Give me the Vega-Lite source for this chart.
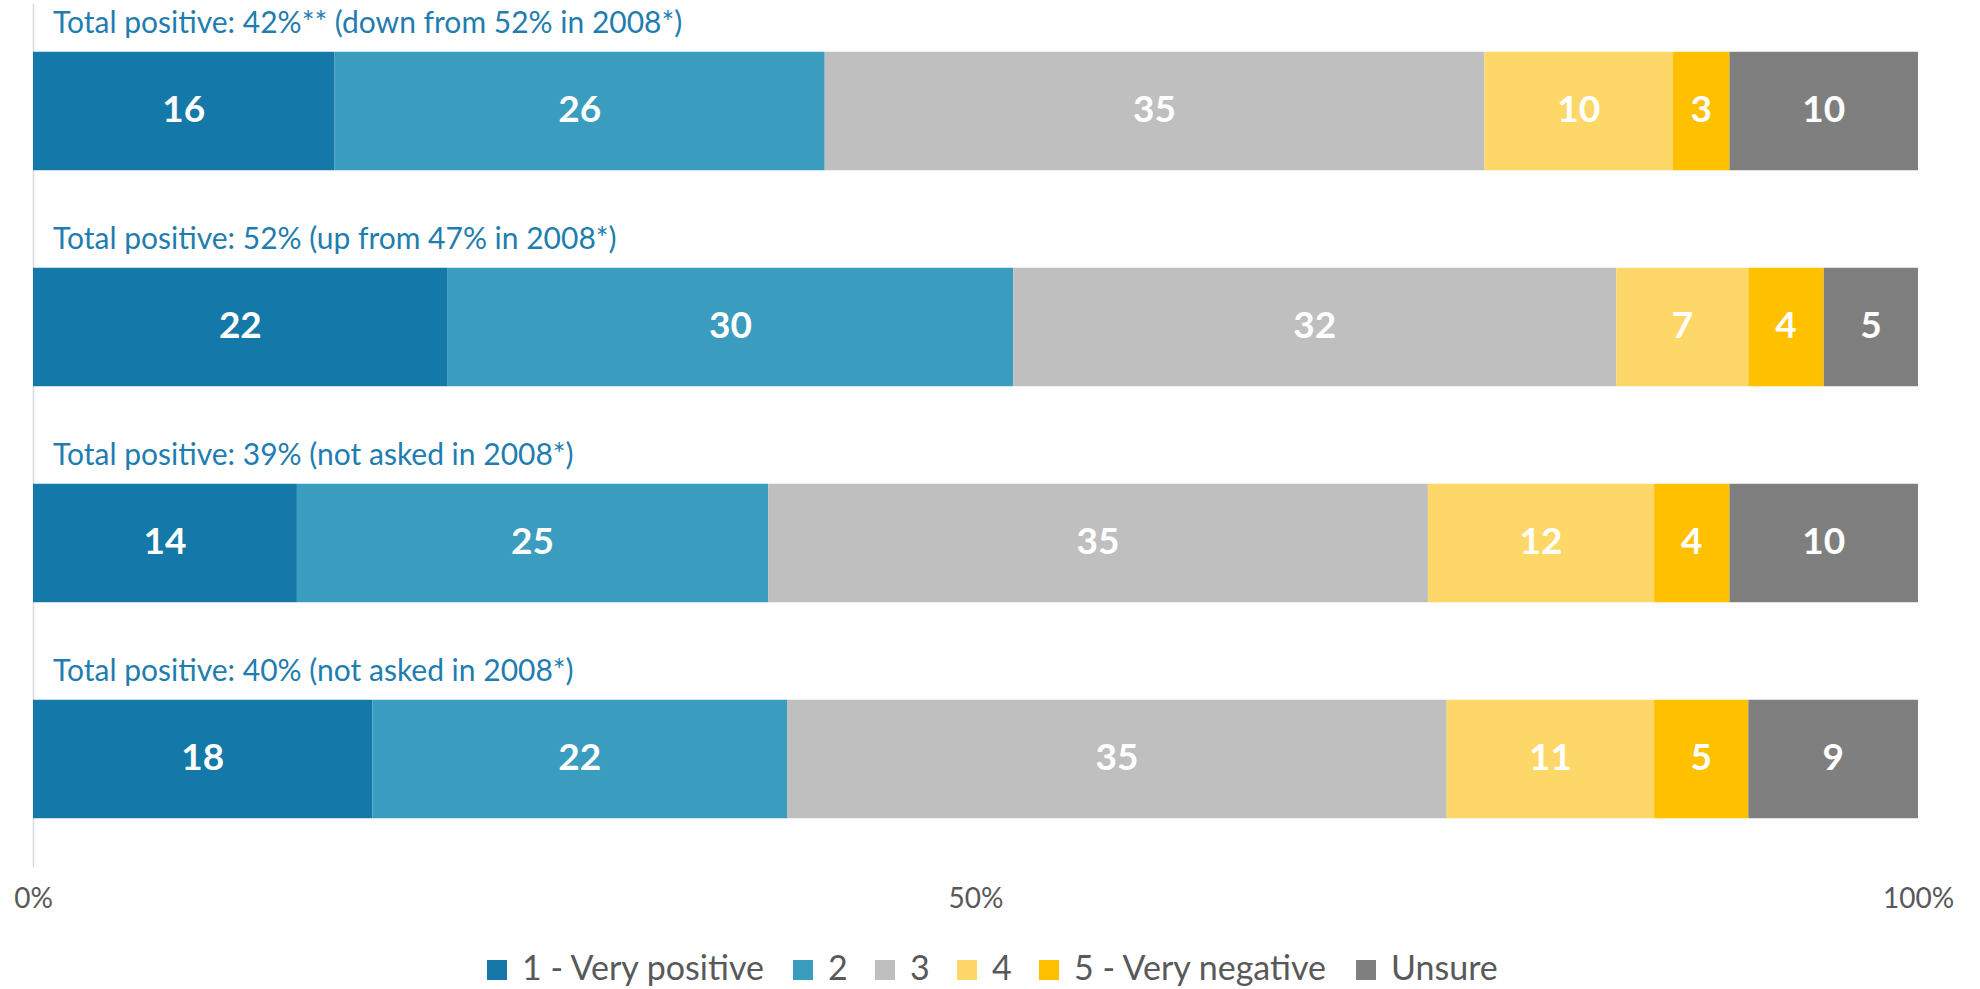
{
  "$schema": "https://vega.github.io/schema/vega-lite/v6.json",
  "width": 1885,
  "height": 864,
  "autosize": "none",
  "padding": {"left": 33, "top": 3, "right": 62, "bottom": 122},
  "background": "white",
  "config": {
    "view": {"stroke": null},
    "font": "Lato",
    "axisY": {"labels": false, "ticks": false, "title": null, "grid": false, "domainColor": "#d9d9d9", "domainWidth": 1.5},
    "axisX": {"domain": false, "ticks": false, "tickSize": 0, "grid": false, "title": null, "labelFontSize": 28, "labelColor": "#595959", "labelPadding": 32, "labelBaseline": "middle", "labelFlush": false}
  },
  "datasets": {
    "segs": [
      {"row": 1, "cat": "1 - Very positive", "order": 1, "value": 16},
      {"row": 1, "cat": "2", "order": 2, "value": 26},
      {"row": 1, "cat": "3", "order": 3, "value": 35},
      {"row": 1, "cat": "4", "order": 4, "value": 10},
      {"row": 1, "cat": "5 - Very negative", "order": 5, "value": 3},
      {"row": 1, "cat": "Unsure", "order": 6, "value": 10},
      {"row": 2, "cat": "1 - Very positive", "order": 1, "value": 22},
      {"row": 2, "cat": "2", "order": 2, "value": 30},
      {"row": 2, "cat": "3", "order": 3, "value": 32},
      {"row": 2, "cat": "4", "order": 4, "value": 7},
      {"row": 2, "cat": "5 - Very negative", "order": 5, "value": 4},
      {"row": 2, "cat": "Unsure", "order": 6, "value": 5},
      {"row": 3, "cat": "1 - Very positive", "order": 1, "value": 14},
      {"row": 3, "cat": "2", "order": 2, "value": 25},
      {"row": 3, "cat": "3", "order": 3, "value": 35},
      {"row": 3, "cat": "4", "order": 4, "value": 12},
      {"row": 3, "cat": "5 - Very negative", "order": 5, "value": 4},
      {"row": 3, "cat": "Unsure", "order": 6, "value": 10},
      {"row": 4, "cat": "1 - Very positive", "order": 1, "value": 18},
      {"row": 4, "cat": "2", "order": 2, "value": 22},
      {"row": 4, "cat": "3", "order": 3, "value": 35},
      {"row": 4, "cat": "4", "order": 4, "value": 11},
      {"row": 4, "cat": "5 - Very negative", "order": 5, "value": 5},
      {"row": 4, "cat": "Unsure", "order": 6, "value": 9}
    ],
    "titles": [
      {"row": 1, "text": "Total positive: 42%** (down from 52% in 2008*)"},
      {"row": 2, "text": "Total positive: 52% (up from 47% in 2008*)"},
      {"row": 3, "text": "Total positive: 39% (not asked in 2008*)"},
      {"row": 4, "text": "Total positive: 40% (not asked in 2008*)"}
    ]
  },
  "layer": [
    {
      "data": {"name": "segs"},
      "transform": [
        {"stack": "value", "groupby": ["row"], "sort": [{"field": "order", "order": "ascending"}], "as": ["v0", "v1"]},
        {"calculate": "(datum.v0 + datum.v1) / 2", "as": "mid"}
      ],
      "layer": [
        {
          "mark": {"type": "bar"},
          "encoding": {
            "y": {"field": "row", "type": "ordinal", "scale": {"paddingInner": 0.452, "paddingOuter": 0.226}},
            "x": {"field": "v0", "type": "quantitative", "scale": {"domain": [0, 100], "nice": false}, "axis": {"values": [0, 50, 100], "labelExpr": "datum.value + '%'"}},
            "x2": {"field": "v1"},
            "color": {
              "field": "cat", "type": "nominal",
              "scale": {
                "domain": ["1 - Very positive", "2", "3", "4", "5 - Very negative", "Unsure"],
                "range": ["#1479A8", "#3A9CBF", "#BFBFBF", "#FDD868", "#FFC000", "#7F7F7F"]
              },
              "legend": {
                "title": null, "orient": "none", "direction": "horizontal",
                "legendX": 447, "legendY": 950,
                "symbolType": "square", "symbolSize": 400, "symbolStrokeWidth": 0,
                "labelFontSize": 34, "labelColor": "#595959", "labelOffset": 8, "columnPadding": 20, "labelLimit": 0
              }
            }
          }
        },
        {
          "mark": {"type": "text", "color": "white", "fontWeight": "bold", "fontSize": 37, "baseline": "middle", "align": "center"},
          "encoding": {
            "y": {"field": "row", "type": "ordinal"},
            "x": {"field": "mid", "type": "quantitative"},
            "text": {"field": "value", "type": "quantitative"}
          }
        }
      ]
    },
    {
      "data": {"name": "titles"},
      "mark": {"type": "text", "color": "#1F7DB0", "fontSize": 30, "align": "left", "baseline": "alphabetic", "dx": 20, "dy": -78},
      "encoding": {
        "y": {"field": "row", "type": "ordinal"},
        "x": {"datum": 0, "type": "quantitative"},
        "text": {"field": "text", "type": "nominal"}
      }
    }
  ]
}
